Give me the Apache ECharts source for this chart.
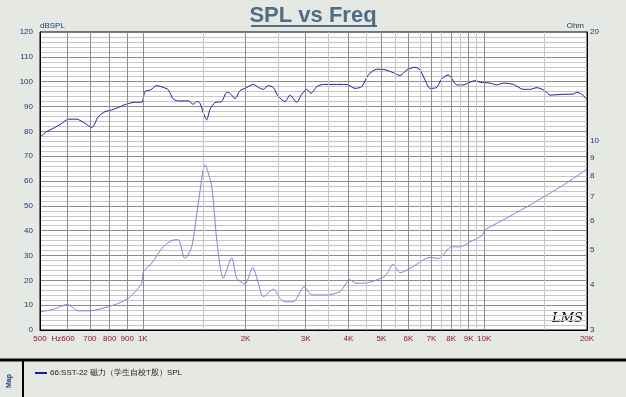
<!DOCTYPE html>
<html>
<head>
<meta charset="utf-8">
<script src="https://cdn.jsdelivr.net/npm/echarts@6/dist/echarts.min.js"></script>
<style>
html, body { margin: 0; padding: 0; background: #e6e8e4; }
#main { width: 626px; height: 397px; }
</style>
</head>
<body>
<div id="main"></div>
<script>
// SPL 曲线 (dB)
var splFreq = [500,523,547,579,605,640,678,709,741,775,811,858,897,949,993,1015,1055,1098,1148,1188,
    1229,1285,1359,1406,1438,1471,1505,1539,1574,1628,1703,1762,1801,1863,1926,1992,2108,2180,2254,2332,
    2413,2495,2610,2700,2824,2921,3021,3110,3232,3379,3615,3956,4184,4377,4575,4843,5124,5417,5669,5931,
    6272,6488,6710,6941,7261,7509,7852,8033,8309,8688,9087,9399,9722,10401,10882,11380,12176,13024,13625,14253,
    15073,15590,17055,18242,18663,19304,20000];
var splDb = [77.6,79.9,81.2,83.2,84.9,84.9,83.2,81.5,85.9,87.9,88.6,89.9,91.0,91.7,91.7,96.0,96.7,98.4,97.7,96.7,
    92.9,92.2,92.3,90.9,92.0,91.3,87.3,84.6,88.9,91.6,92.0,95.7,95.3,93.2,96.4,97.3,98.9,97.7,96.9,98.4,
    97.6,94.0,92.0,94.6,91.7,94.9,96.9,95.3,98.0,98.9,98.9,98.9,97.3,98.0,102.7,105.0,104.8,103.6,102.5,104.7,
    105.8,104.7,100.7,97.3,97.7,101.1,102.7,101.3,98.7,98.7,99.8,100.4,99.8,99.4,98.7,99.4,98.9,96.9,96.9,97.6,
    96.3,94.6,94.9,95.0,95.7,94.9,92.9];

// 阻抗曲线 (Ohm)
var zFreq = [500,547,602,647,700,793,858,907,960,993,1004,1062,1148,1229,1270,1329,1391,1454,1522,1592,
    1647,1721,1822,1885,1992,2099,2180,2254,2413,2524,2610,2760,2967,3125,3458,3781,4044,4213,4526,5124,
    5417,5669,6065,6941,7340,8033,8496,9087,9835,10057,11380,13625,17055,20000];
var zOhm = [3.37,3.42,3.53,3.39,3.39,3.48,3.57,3.67,3.87,4.04,4.35,4.59,5.10,5.32,5.33,4.73,5.10,6.72,8.58,7.47,
    5.32,4.17,4.75,4.17,4.02,4.47,4.04,3.71,3.89,3.67,3.59,3.59,3.95,3.75,3.75,3.83,4.13,4.04,4.05,4.23,
    4.56,4.32,4.44,4.76,4.73,5.10,5.09,5.26,5.46,5.67,6.05,6.65,7.55,8.36];

// 频率刻度
var majorFreq = [500,600,700,800,900,1000,2000,3000,4000,5000,6000,7000,8000,9000,10000,20000];
var majorLabel = ['500','Hz600','700','800','900','1K','2K','3K','4K','5K','6K','7K','8K','9K','10K','20K'];
var minorFreq = [1500,2500,3500,4500,5500,6500,7500,8500,9500,15000];
var ohmTicks = [3,4,5,6,7,8,9,10,20];

var splName = '66:SST-22 磁力（学生自校T股）SPL';
var font = 'Liberation Sans';

function zip(a, b) {
    return a.map(function (v, i) { return [v, b[i]]; });
}

var vLines = [];
minorFreq.forEach(function (f) {
    vLines.push({ xAxis: f, label: { show: false }, lineStyle: { color: '#c6c6c6' } });
});
majorFreq.forEach(function (f, i) {
    var edge = (f === 500 || f === 20000);
    vLines.push({
        xAxis: f,
        label: { formatter: majorLabel[i], padding: f === 600 ? [0, 8, 0, 0] : 0 },
        lineStyle: { color: edge ? '#000' : '#8c8c8c' }
    });
});

var ohmLines = ohmTicks.map(function (v) {
    return { yAxis: v, label: { formatter: String(v) } };
});

var option = {
    backgroundColor: '#e6e8e4',
    animation: false,
    title: {
        text: 'SPL vs Freq',
        left: 'center',
        top: 0,
        textStyle: { color: '#4f6e84', fontSize: 22, fontWeight: 'bold', fontFamily: font }
    },
    legend: {
        data: [splName],
        left: 30,
        top: 364,
        icon: 'rect',
        itemWidth: 12,
        itemHeight: 2,
        itemGap: 3,
        textStyle: { color: '#202020', fontSize: 8, fontFamily: font, padding: [0, 0, 0, -2] }
    },
    grid: {
        show: true,
        left: 40, top: 32, width: 547, height: 298,
        backgroundColor: '#fdfdfd',
        borderColor: '#000',
        borderWidth: 1
    },
    xAxis: {
        type: 'log',
        logBase: 10,
        min: 500,
        max: 20000,
        axisLine: { show: true, lineStyle: { color: '#000' } },
        axisTick: { show: false },
        axisLabel: { show: false },
        splitLine: { show: false },
        minorSplitLine: { show: false }
    },
    yAxis: [
        {
            type: 'value',
            min: 0, max: 120, interval: 10,
            name: 'dBSPL',
            nameLocation: 'end',
            nameGap: 2,
            nameTextStyle: { align: 'left', color: '#1a3a6e', fontSize: 8, fontFamily: font },
            axisLine: { show: true, lineStyle: { color: '#000' } },
            axisTick: { show: false },
            axisLabel: { color: '#1a3a6e', fontSize: 8, fontFamily: font, margin: 7 },
            splitLine: { show: true, showMinLine: false, showMaxLine: false, lineStyle: { color: '#8c8c8c' } },
            minorTick: { show: false, splitNumber: 5 },
            minorSplitLine: { show: true, lineStyle: { color: '#c6c6c6' } }
        },
        {
            type: 'log',
            min: 3, max: 20,
            position: 'right',
            name: 'Ohm',
            nameLocation: 'end',
            nameGap: 2,
            nameTextStyle: { align: 'right', color: '#1a3a6e', fontSize: 8, fontFamily: font, padding: [0, 3, 0, 0] },
            axisLine: { show: true, lineStyle: { color: '#000' } },
            axisTick: { show: false },
            axisLabel: { show: false },
            splitLine: { show: false }
        }
    ],
    series: [
        {
            // 竖向网格线 + 频率标签
            type: 'line',
            data: [],
            z: 1,
            silent: true,
            markLine: {
                silent: true,
                symbol: ['none', 'none'],
                animation: false,
                lineStyle: { type: 'solid', width: 1 },
                label: { show: true, position: 'start', distance: 5, color: '#8b1040', fontSize: 8, fontFamily: font },
                emphasis: { disabled: true },
                data: vLines
            }
        },
        {
            // 右侧 Ohm 标签
            type: 'line',
            yAxisIndex: 1,
            data: [],
            z: 1,
            silent: true,
            markLine: {
                silent: true,
                symbol: ['none', 'none'],
                animation: false,
                lineStyle: { color: 'rgba(0,0,0,0)', width: 0 },
                label: { show: true, position: 'end', distance: 3, color: '#1a3a6e', fontSize: 8, fontFamily: font },
                emphasis: { disabled: true },
                data: ohmLines
            }
        },
        {
            name: splName,
            type: 'line',
            data: zip(splFreq, splDb),
            showSymbol: false,
            symbol: 'none',
            smooth: 0.25,
            z: 3,
            color: '#1c1c9a',
            lineStyle: { color: '#1c1c9a', width: 1 }
        },
        {
            name: 'Impedance',
            type: 'line',
            yAxisIndex: 1,
            data: zip(zFreq, zOhm),
            showSymbol: false,
            symbol: 'none',
            smooth: 0.25,
            z: 3,
            color: '#8484d6',
            lineStyle: { color: '#8484d6', width: 1 }
        }
    ],
    graphic: [
        { type: 'line', shape: { x1: 251, y1: 26, x2: 377, y2: 26 }, style: { stroke: '#4f6e84', lineWidth: 2 } },
        { type: 'line', shape: { x1: 0, y1: 360, x2: 626, y2: 360 }, style: { stroke: '#000', lineWidth: 3 } },
        { type: 'line', shape: { x1: 23, y1: 360, x2: 23, y2: 397 }, style: { stroke: '#000', lineWidth: 2 } },
        { type: 'text', x: 6, y: 388, rotation: Math.PI / 2, style: { text: 'Map', fill: '#1a3a6e', font: 'bold 7px ' + font } },
        { type: 'text', x: 552, y: 312, style: { text: 'LMS', fill: '#000', font: 'italic 13px "DejaVu Serif"' } }
    ]
};

var myChart = echarts.init(document.getElementById('main'));
myChart.setOption(option);
</script>
</body>
</html>
